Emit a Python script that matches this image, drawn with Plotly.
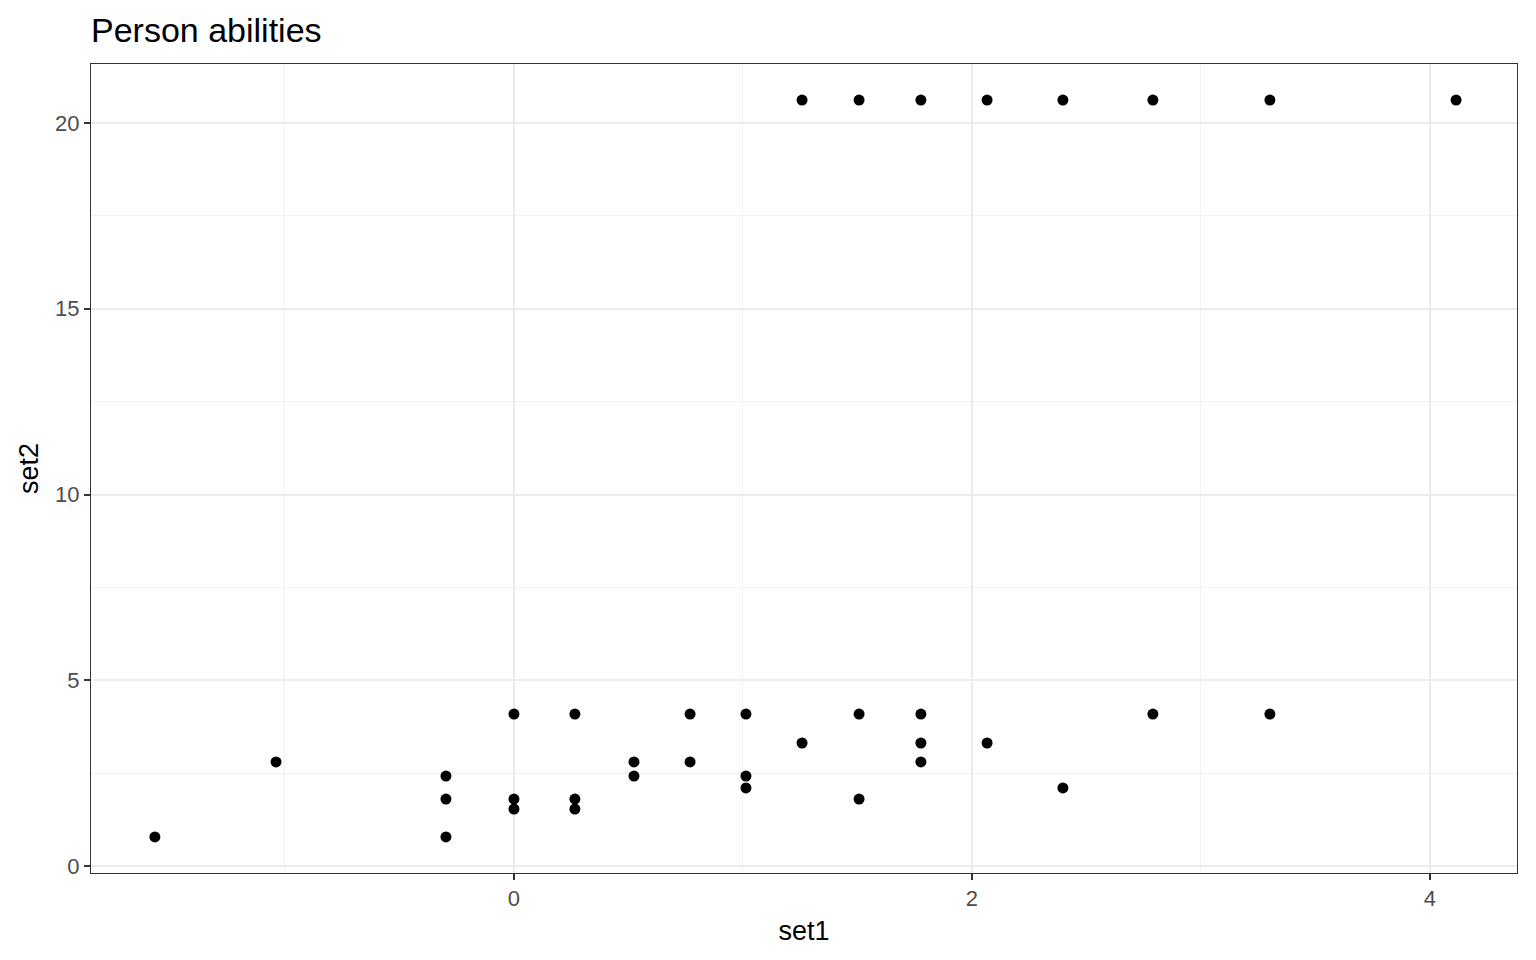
import plotly.graph_objects as go

set1 = [1.258, 1.507, 1.777, 2.066, 2.397, 2.790, 3.301, 4.114,
        -1.568, -1.039,
        -0.297, -0.297, -0.297,
        0.0, 0.0, 0.0,
        0.266, 0.266, 0.266,
        0.524, 0.524,
        0.769, 0.769,
        1.013, 1.013, 1.013,
        1.258,
        1.507, 1.507,
        1.777, 1.777, 1.777,
        2.066, 2.397, 2.790, 3.301]
set2 = [20.62] * 8 + [
        0.78, 2.80,
        2.42, 1.80, 0.78,
        4.09, 1.80, 1.53,
        4.09, 1.80, 1.53,
        2.80, 2.42,
        4.09, 2.80,
        4.09, 2.42, 2.10,
        3.31,
        4.09, 1.80,
        4.09, 3.31, 2.80,
        3.31, 2.10, 4.09, 4.09]

x_ticks = [0, 2, 4]
y_ticks = [0, 5, 10, 15, 20]

fig = go.Figure(go.Scatter(x=set1, y=set2, mode="markers",
                           marker=dict(color="black", size=11), showlegend=False))

font = "Liberation Sans"
axis_common = dict(showline=True, linecolor="#333333", linewidth=1, mirror=True,
                   ticks="outside", ticklen=6, tickcolor="#333333", tickwidth=1.5,
                   showgrid=True, gridcolor="#ebebeb", gridwidth=2,
                   zeroline=False, tickfont=dict(size=22, color="#4d4d4d", family=font))

# page body has an 8px margin; margins below compensate for it
fig.update_layout(
    width=1536, height=960,
    paper_bgcolor="white", plot_bgcolor="white",
    margin=dict(l=83, r=27, t=56, b=95),
    title=dict(text="Person abilities", x=83/1536, xanchor="left", y=1-22/960, yanchor="middle",
               font=dict(size=34, color="black", family=font)),
    xaxis=dict(range=[-1.847, 4.380], tickvals=x_ticks,
               title=dict(text="set1", standoff=10, font=dict(size=27, color="black", family=font)),
               minor=dict(tickvals=[-1, 1, 3], showgrid=True, gridcolor="#f2f2f2", gridwidth=1, ticks=""),
               **axis_common),
    yaxis=dict(range=[-0.19, 21.59], tickvals=y_ticks,
               title=dict(text="set2", standoff=8, font=dict(size=27, color="black", family=font)),
               minor=dict(tickvals=[2.5, 7.5, 12.5, 17.5], showgrid=True, gridcolor="#f2f2f2", gridwidth=1, ticks=""),
               **axis_common),
)

fig.write_html("out.html")
